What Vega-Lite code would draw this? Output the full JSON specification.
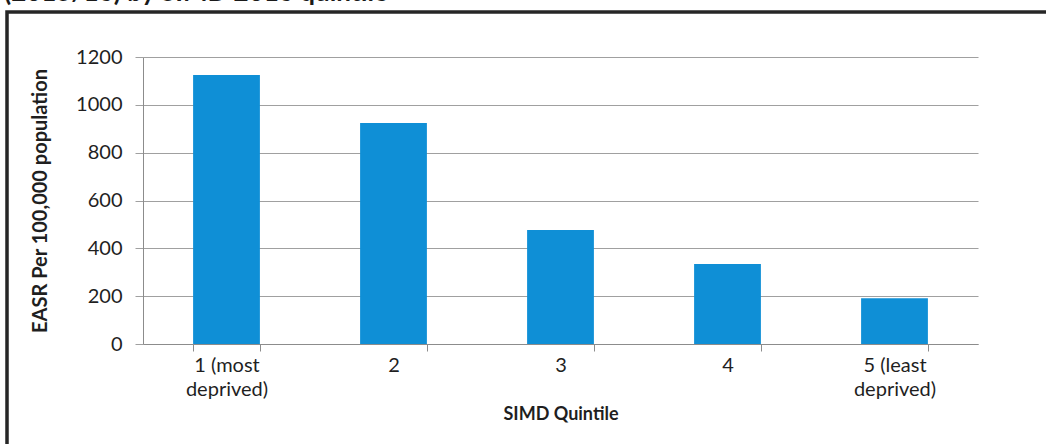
{
  "$schema": "https://vega.github.io/schema/vega-lite/v6.json",
  "usermeta": {"embedOptions": {"actions": false}},
  "autosize": {"type": "none"},
  "padding": {"left": 7, "top": 12, "right": -5, "bottom": -5},
  "width": 1044,
  "height": 437,
  "background": "white",
  "title": {
    "text": "(2015/16) by SIMD 2016 quintile",
    "anchor": "start",
    "frame": "group",
    "offset": 7,
    "baseline": "alphabetic",
    "dx": -3,
    "dy": 22,
    "font": "Lato",
    "fontSize": 26,
    "fontWeight": "bold",
    "color": "#1a1a1a"
  },
  "config": {
    "font": "Lato",
    "view": {"stroke": "#262626", "strokeWidth": 3.5}
  },
  "data": {
    "values": [
      {"quintile": "1 (most deprived)", "easr": 1125},
      {"quintile": "2", "easr": 924},
      {"quintile": "3", "easr": 477},
      {"quintile": "4", "easr": 334},
      {"quintile": "5 (least deprived)", "easr": 191}
    ]
  },
  "mark": {"type": "bar", "color": "#0f8fd6"},
  "encoding": {
    "x": {
      "field": "quintile",
      "type": "nominal",
      "sort": null,
      "scale": {"range": [136, 971], "paddingInner": 0.6, "paddingOuter": 0.3},
      "axis": {
        "orient": "bottom",
        "offset": -105,
        "title": "SIMD Quintile",
        "titleFontSize": 18,
        "titleFontWeight": "bold",
        "titleColor": "#1f1f1f",
        "titlePadding": 6,
        "labelAngle": 0,
        "labelFontSize": 20,
        "labelColor": "#1f1f1f",
        "labelPadding": 4,
        "labelLineHeight": 24,
        "labelExpr": "indexof(datum.label, ' deprived)') > 0 ? [replace(datum.label, ' deprived)', ''), 'deprived)'] : datum.label",
        "tickBand": "extent",
        "tickSize": 7,
        "tickColor": "#8c8c8c",
        "domainColor": "#8c8c8c",
        "grid": false
      }
    },
    "y": {
      "field": "easr",
      "type": "quantitative",
      "scale": {"domain": [0, 1200], "range": [332, 45], "nice": false},
      "axis": {
        "orient": "left",
        "offset": -136,
        "values": [0, 200, 400, 600, 800, 1000, 1200],
        "format": "d",
        "title": "EASR Per 100,000 population",
        "titleFontSize": 20,
        "titleFontWeight": "bold",
        "titleColor": "#1f1f1f",
        "titlePadding": 25,
        "labelFontSize": 20,
        "labelColor": "#1f1f1f",
        "labelPadding": 13,
        "tickSize": 8,
        "tickColor": "#a0a0a0",
        "domainColor": "#8c8c8c",
        "grid": true,
        "gridColor": "#a0a0a0",
        "gridWidth": 1.2
      }
    }
  }
}
